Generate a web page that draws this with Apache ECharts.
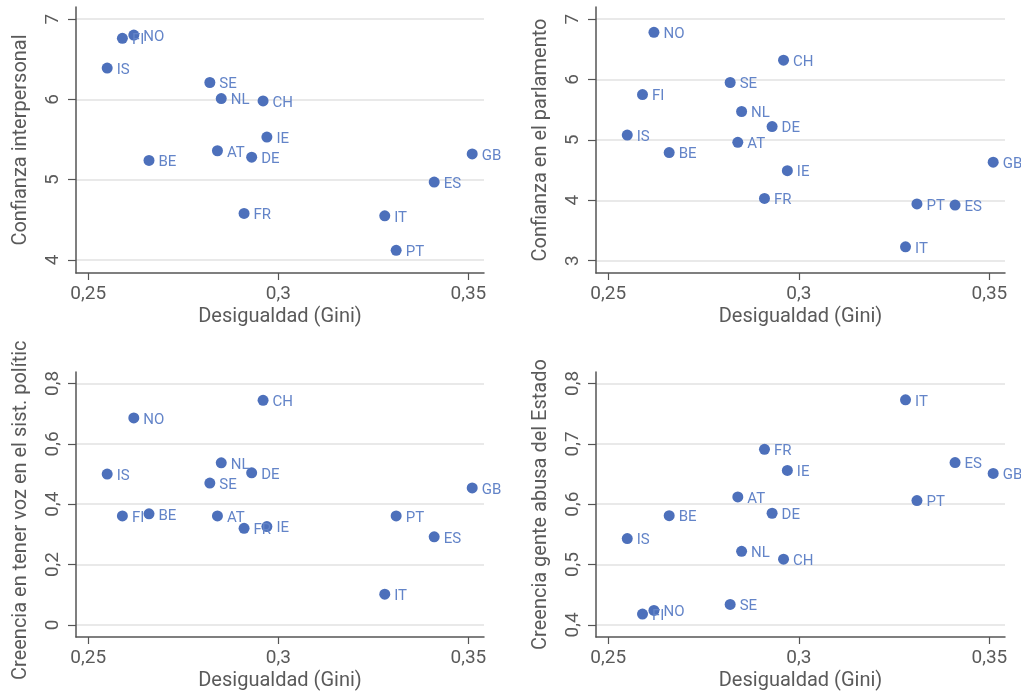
<!DOCTYPE html>
<html>
<head>
<meta charset="utf-8">
<script src="https://cdn.jsdelivr.net/npm/echarts@6/dist/echarts.min.js"></script>
<style>html,body{margin:0;padding:0;background:#fff;}#c{width:1021px;height:693px;}</style>
</head>
<body>
<div id="c"></div>
<script>
const countries = ['FI','NO','IS','SE','NL','CH','IE','AT','DE','BE','FR','IT','PT','ES','GB'];
const gini      = [0.259,0.262,0.255,0.282,0.285,0.296,0.297,0.284,0.293,0.266,0.291,0.328,0.331,0.341,0.351];
const trustInterpersonal = [6.76,6.80,6.39,6.21,6.01,5.98,5.53,5.36,5.28,5.24,4.58,4.55,4.12,4.97,5.32];
const trustParliament    = [5.75,6.78,5.08,5.95,5.47,6.32,4.49,4.96,5.22,4.79,4.03,3.23,3.94,3.92,4.63];
const voiceInSystem      = [0.361,0.686,0.500,0.470,0.537,0.744,0.326,0.361,0.504,0.368,0.320,0.102,0.361,0.292,0.454];
const stateAbuse         = [0.418,0.424,0.543,0.434,0.522,0.509,0.656,0.612,0.585,0.581,0.691,0.773,0.606,0.669,0.651];

const xTicks  = [0.25,0.3,0.35];
const y1Ticks = [4,5,6,7];
const y2Ticks = [3,4,5,6,7];
const y3Ticks = [0,0.2,0.4,0.6,0.8];
const y4Ticks = [0.4,0.5,0.6,0.7,0.8];

const xTitle = 'Desigualdad (Gini)';
const yTitles = ['Confianza interpersonal','Confianza en el parlamento','Creencia en tener voz en el sist. político','Creencia gente abusa del Estado'];

const FONT = 'Roboto';
const AXIS_COL = '#555555';
const TXT_COL = '#5a5a5a';
const DOT_COL = '#4d70bb';
const LAB_COL = '#6384c8';

const fmt = v => String(+v.toFixed(4)).replace('.', ',');

const grids = [
  {left:76, top:7, width:408, height:266},
  {left:596, top:7, width:409, height:266},
  {left:76, top:372, width:408, height:265},
  {left:596, top:372, width:409, height:265}
];
const yRanges = [[3.838,7.15],[2.796,7.2],[-0.04,0.838],[0.38,0.819]];
const yTickSets = [y1Ticks,y2Ticks,y3Ticks,y4Ticks];
const yData = [trustInterpersonal,trustParliament,voiceInSystem,stateAbuse];

const xAxes = grids.map((g,i)=>({
  type:'value', gridIndex:i, min:0.2468, max:0.3541,
  name:xTitle, nameLocation:'middle', nameGap:34,
  nameTextStyle:{fontFamily:FONT,fontSize:20,color:TXT_COL},
  axisLine:{show:true,onZero:false,lineStyle:{color:AXIS_COL,width:1.5}},
  axisTick:{show:true,length:7,lineStyle:{color:AXIS_COL,width:1.2},customValues:xTicks},
  axisLabel:{fontFamily:FONT,fontSize:19,color:TXT_COL,margin:12,customValues:xTicks,formatter:fmt},
  splitLine:{show:false}
}));
const yAxes = grids.map((g,i)=>({
  type:'value', gridIndex:i, min:yRanges[i][0], max:yRanges[i][1],
  name:yTitles[i], nameLocation:'middle', nameGap:45, nameRotate:90,
  nameTextStyle:{fontFamily:FONT,fontSize:20,color:TXT_COL},
  axisLine:{show:true,onZero:false,lineStyle:{color:AXIS_COL,width:1.5}},
  axisTick:{show:true,length:8,lineStyle:{color:AXIS_COL,width:1.2},customValues:yTickSets[i]},
  axisLabel:{fontFamily:FONT,fontSize:19,color:TXT_COL,margin:13,rotate:90,customValues:yTickSets[i],formatter:fmt},
  splitLine:{show:true,lineStyle:{color:'#e2e2e2',width:1.5}}
}));
const series = yData.map((ys,i)=>({
  type:'scatter', xAxisIndex:i, yAxisIndex:i,
  symbolSize:11,
  itemStyle:{color:DOT_COL,opacity:1},
  data: countries.map((c,k)=>({value:[gini[k],ys[k]],name:c})),
  label:{show:true,position:'right',distance:4,formatter:p=>p.data.name,
    fontFamily:FONT,fontSize:15,color:LAB_COL,offset:[0,2]},
  emphasis:{disabled:true}
}));

const chart = echarts.init(document.getElementById('c'),null,{renderer:'canvas'});
chart.setOption({
  animation:false,
  backgroundColor:'#ffffff',
  grid:grids,
  xAxis:xAxes,
  yAxis:yAxes,
  series:series,
  graphic:[{type:'rect',z:100,zlevel:1,shape:{x:0,y:322,width:46,height:18},style:{fill:'#ffffff'}}]
});
</script>
</body>
</html>
